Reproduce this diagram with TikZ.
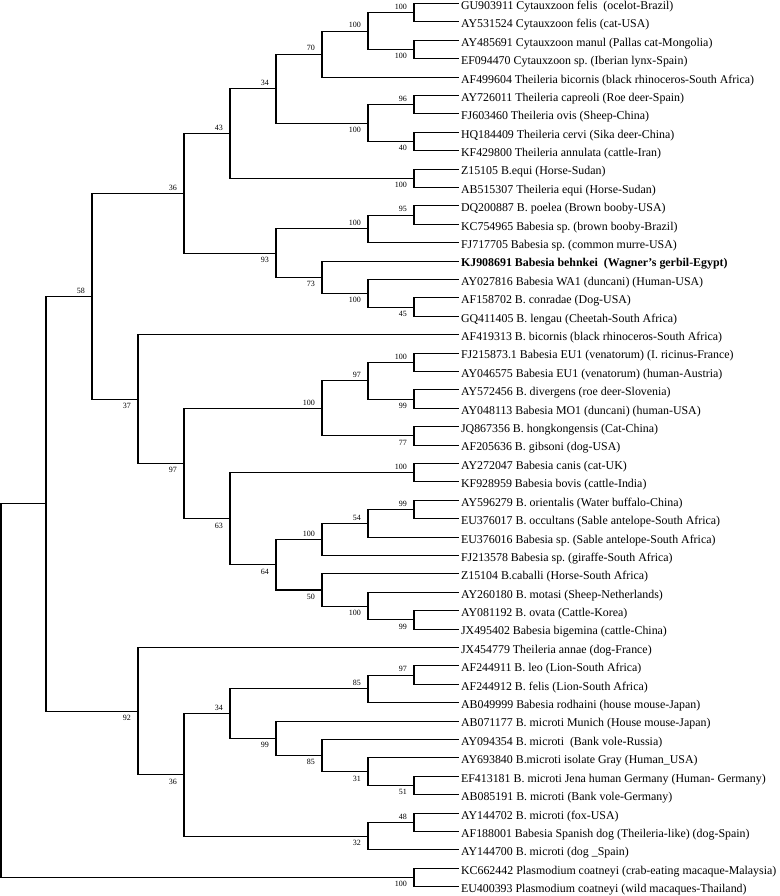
\documentclass[tikz,border=0pt]{standalone}
\usepackage{fontspec}
\setmainfont{Liberation Serif}
\usetikzlibrary{positioning}
\frenchspacing

\begin{document}
\begin{tikzpicture}[x=1pt, y=-1pt, line width=1.1pt,
    leaf/.style={inner sep=1pt, font=\fontsize{11.9}{13}\selectfont},
    bsup/.style={anchor=south east, inner sep=0pt, xshift=-6.5pt, yshift=2.5pt, font=\fontsize{8}{9}\selectfont},
    bsdn/.style={anchor=north east, inner sep=0pt, xshift=-6.5pt, yshift=-3.5pt, font=\fontsize{8}{9}\selectfont}]
\useasboundingbox (0,0) rectangle (779,896);

% taxa
\foreach \i/\lab in {1/GU903911 Cytauxzoon felis\ \ (ocelot-Brazil),
    2/AY531524 Cytauxzoon felis (cat-USA),
    3/AY485691 Cytauxzoon manul (Pallas cat-Mongolia),
    4/EF094470 Cytauxzoon sp. (Iberian lynx-Spain),
    5/AF499604 Theileria bicornis (black rhinoceros-South Africa),
    6/AY726011 Theileria capreoli (Roe deer-Spain),
    7/FJ603460 Theileria ovis (Sheep-China),
    8/HQ184409 Theileria cervi (Sika deer-China),
    9/KF429800 Theileria annulata (cattle-Iran),
    10/Z15105 B.equi (Horse-Sudan),
    11/AB515307 Theileria equi (Horse-Sudan),
    12/DQ200887 B. poelea (Brown booby-USA),
    13/KC754965 Babesia sp. (brown booby-Brazil),
    14/FJ717705 Babesia sp. (common murre-USA),
    15/\textbf{KJ908691 Babesia behnkei\ \ (Wagner’s gerbil-Egypt)},
    16/AY027816 Babesia WA1 (duncani) (Human-USA),
    17/AF158702 B. conradae (Dog-USA),
    18/GQ411405 B. lengau (Cheetah-South Africa),
    19/AF419313 B. bicornis (black rhinoceros-South Africa),
    20/FJ215873.1 Babesia EU1 (venatorum) (I. ricinus-France),
    21/AY046575 Babesia EU1 (venatorum) (human-Austria),
    22/AY572456 B. divergens (roe deer-Slovenia),
    23/AY048113 Babesia MO1 (duncani) (human-USA),
    24/JQ867356 B. hongkongensis (Cat-China),
    25/AF205636 B. gibsoni (dog-USA),
    26/AY272047 Babesia canis (cat-UK),
    27/KF928959 Babesia bovis (cattle-India),
    28/AY596279 B. orientalis (Water buffalo-China),
    29/EU376017 B. occultans (Sable antelope-South Africa),
    30/EU376016 Babesia sp. (Sable antelope-South Africa),
    31/FJ213578 Babesia sp. (giraffe-South Africa),
    32/Z15104 B.caballi (Horse-South Africa),
    33/AY260180 B. motasi (Sheep-Netherlands),
    34/AY081192 B. ovata (Cattle-Korea),
    35/JX495402 Babesia bigemina (cattle-China),
    36/JX454779 Theileria annae (dog-France),
    37/AF244911 B. leo (Lion-South Africa),
    38/AF244912 B. felis (Lion-South Africa),
    39/AB049999 Babesia rodhaini (house mouse-Japan),
    40/AB071177 B. microti Munich (House mouse-Japan),
    41/AY094354 B. microti\ \ (Bank vole-Russia),
    42/AY693840 B.microti isolate Gray (Human\_USA),
    43/EF413181 B. microti Jena human Germany (Human- Germany),
    44/AB085191 B. microti (Bank vole-Germany),
    45/AY144702 B. microti (fox-USA),
    46/AF188001 Babesia Spanish dog (Theileria-like) (dog-Spain),
    47/AY144700 B. microti (dog \_Spain),
    48/KC662442 Plasmodium coatneyi (crab-eating macaque-Malaysia),
    49/EU400393 Plasmodium coatneyi (wild macaques-Thailand)} {
    \coordinate (t\i) at (459,{3.5+18.4*(\i-1)});
    \node[leaf, right=0.5pt of t\i, yshift=-3pt] (l\i) {\lab};
}

% sister pairs
\foreach \a/\bs/\pos in {1/100/bsup, 3/100/bsdn, 6/96/bsup, 8/40/bsdn, 10/100/bsdn,
    12/95/bsup, 17/45/bsdn, 20/100/bsup, 22/99/bsdn, 24/77/bsdn, 26/100/bsup,
    28/99/bsup, 34/99/bsdn, 37/97/bsup, 43/51/bsdn, 45/48/bsup, 48/100/bsdn} {
    \pgfmathtruncatemacro\b{\a+1}
    \coordinate (p\a) at (414,{3.5+18.4*(\a-0.5)});
    \draw (p\a) |- (t\a);
    \draw (p\a) |- (t\b);
    \node[\pos] (s\a) at (p\a) {\bs};
}

% inner nodes
\coordinate (qa) at (368,31.1);
\coordinate (qb) at (368,123.1);
\coordinate (qc) at (368,228.9);
\coordinate (qd) at (368,293.3);
\coordinate (qe) at (368,380.7);
\coordinate (qf) at (368,523.3);
\coordinate (qg) at (368,606.1);
\coordinate (qh) at (368,688.9);
\coordinate (qi) at (368,771.7);
\coordinate (qj) at (368,836.1);
\coordinate (ra) at (322,54.1);
\coordinate (rb) at (322,277.2);
\coordinate (rc) at (322,408.3);
\coordinate (rd) at (322,539.4);
\coordinate (re) at (322,590.0);
\coordinate (rf) at (322,755.6);
\coordinate (sa) at (276,88.6);
\coordinate (sb) at (276,253.05);
\coordinate (sc) at (276,564.7);
\coordinate (sd) at (276,738.35);
\coordinate (ua) at (230,133.45);
\coordinate (ub) at (230,518.7);
\coordinate (uc) at (230,713.6);
\coordinate (va) at (184,193.25);
\coordinate (vb) at (184,463.5);
\coordinate (vc) at (184,774.85);
\coordinate (wa) at (138,399.1);
\coordinate (wb) at (138,711.2);
\coordinate (xa) at (92,296.2);
\coordinate (ya) at (46,503.7);
\coordinate (root) at (1,690.6);

% branches
\draw (qa) |- (p1);  \draw (qa) |- (p3);
\draw (qb) |- (p6);  \draw (qb) |- (p8);
\draw (qc) |- (p12); \draw (qc) |- (t14);
\draw (qd) |- (t16); \draw (qd) |- (p17);
\draw (qe) |- (p20); \draw (qe) |- (p22);
\draw (qf) |- (p28); \draw (qf) |- (t30);
\draw (qg) |- (t33); \draw (qg) |- (p34);
\draw (qh) |- (p37); \draw (qh) |- (t39);
\draw (qi) |- (t42); \draw (qi) |- (p43);
\draw (qj) |- (p45); \draw (qj) |- (t47);
\draw (ra) |- (qa) node[bsup] (s-qa) {100}; \draw (ra) |- (t5);
\draw (rb) |- (t15); \draw (rb) |- (qd) node[bsdn] (s-qd) {100};
\draw (rc) |- (qe) node[bsup] (s-qe) {97}; \draw (rc) |- (p24);
\draw (rd) |- (qf) node[bsup] (s-qf) {54}; \draw (rd) |- (t31);
\draw (re) |- (t32); \draw (re) |- (qg) node[bsdn] (s-qg) {100};
\draw (rf) |- (t41); \draw (rf) |- (qi) node[bsdn] (s-qi) {31};
\draw (sa) |- (ra) node[bsup] (s-ra) {70}; \draw (sa) |- (qb) node[bsdn] (s-qb) {100};
\draw (sb) |- (qc) node[bsup] (s-qc) {100}; \draw (sb) |- (rb) node[bsdn] (s-rb) {73};
\draw (sc) |- (rd) node[bsup] (s-rd) {100}; \draw (sc) |- (re) node[bsdn] (s-re) {50};
\draw (sd) |- (t40); \draw (sd) |- (rf) node[bsdn] (s-rf) {85};
\draw (ua) |- (sa) node[bsup] (s-sa) {34}; \draw (ua) |- (p10);
\draw (ub) |- (p26); \draw (ub) |- (sc) node[bsdn] (s-sc) {64};
\draw (uc) |- (qh) node[bsup] (s-qh) {85}; \draw (uc) |- (sd) node[bsdn] (s-sd) {99};
\draw (va) |- (ua) node[bsup] (s-ua) {43}; \draw (va) |- (sb) node[bsdn] (s-sb) {93};
\draw (vb) |- (rc) node[bsup] (s-rc) {100}; \draw (vb) |- (ub) node[bsdn] (s-ub) {63};
\draw (vc) |- (uc) node[bsup] (s-uc) {34}; \draw (vc) |- (qj) node[bsdn] (s-qj) {32};
\draw (wa) |- (t19); \draw (wa) |- (vb) node[bsdn] (s-vb) {97};
\draw (wb) |- (t36); \draw (wb) |- (vc) node[bsdn] (s-vc) {36};
\draw (xa) |- (va) node[bsup] (s-va) {36}; \draw (xa) |- (wa) node[bsdn] (s-wa) {37};
\draw (ya) |- (xa) node[bsup] (s-xa) {58}; \draw (ya) |- (wb) node[bsdn] (s-wb) {92};
\draw (root) |- (ya); \draw (root) |- (p48);
\end{tikzpicture}
\end{document}
